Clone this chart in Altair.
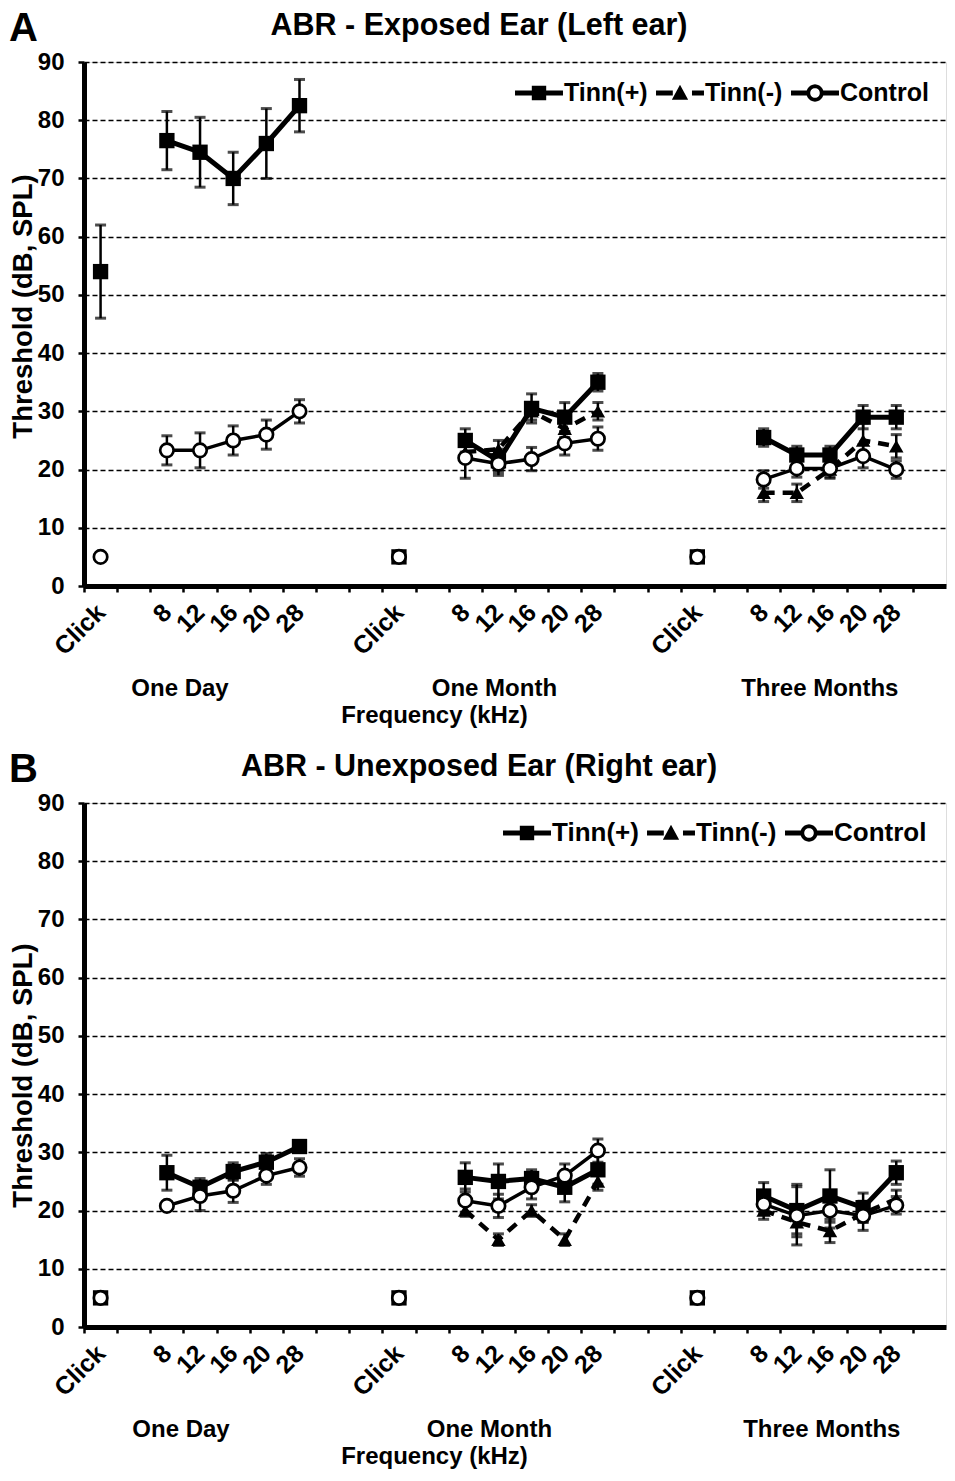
import math
import altair as alt
import pandas as pd

periods = ["One Day", "One Month", "Three Months"]
freqs = ["Click", "8", "12", "16", "20", "28"]
series_names = ["Tinn(+)", "Tinn(-)", "Control"]
panel_letters = ["A", "B"]
panel_titles = ["ABR - Exposed Ear (Left ear)", "ABR - Unexposed Ear (Right ear)"]
y_ticks = [0, 10, 20, 30, 40, 50, 60, 70, 80, 90]

# values per period block: Click, 8, 12, 16, 20, 28  (One Day | One Month | Three Months)
a_tinn_pos = [54, 76.5, 74.5, 70, 76, 82.5,
              5, 25, 21.5, 30.5, 29, 35,
              5, 25.5, 22.5, 22.5, 29, 29]
a_tinn_pos_err = [8, 5, 6, 4.5, 6, 4.5,
                  0, 2, 2, 2.5, 2.5, 1.5,
                  0, 1.5, 1.5, 1.5, 2, 2]
a_tinn_neg = [None, None, None, None, None, None,
              5, 23, 23.5, 30, 27, 30,
              5, 16, 16, 20, 25, 24]
a_tinn_neg_err = [None, None, None, None, None, None,
                  0, 1.5, 1.5, 1.5, 1.5, 1.5,
                  0, 1.5, 1.5, 1.5, 3, 2]
a_control = [5, 23.3, 23.3, 25, 26, 30,
             5, 22, 21, 21.8, 24.5, 25.3,
             5, 18.3, 20.2, 20.2, 22.3, 20]
a_control_err = [0, 2.5, 3, 2.5, 2.5, 2,
                 0, 3.5, 2, 2, 2, 2,
                 0, 1.5, 1.5, 1.5, 2, 1.5]

b_tinn_pos = [5, 26.5, 24, 26.7, 28.3, 31,
              5, 25.7, 25, 25.5, 24, 27,
              5, 22.5, 20, 22.5, 20.5, 26.5]
b_tinn_pos_err = [0, 3, 1.5, 1.5, 1.5, 1,
                  0, 2.5, 3, 1.5, 2.5, 2.5,
                  0, 2.3, 4.5, 4.5, 2.5, 2]
b_tinn_neg = [None, None, None, None, None, None,
              5, 20, 15, 20, 15, 25,
              5, 20, 18, 16.5, 19.5, 22]
b_tinn_neg_err = [None, None, None, None, None, None,
                  0, 1, 1, 1, 1, 1.5,
                  0, 1.5, 2, 2, 1.5, 1.5]
b_control = [5, 20.8, 22.5, 23.4, 26, 27.4,
             5, 21.7, 20.8, 24, 26, 30.3,
             5, 21.1, 19.1, 20, 19.1, 20.9]
b_control_err = [0, 0.5, 2.5, 2, 1.5, 1.5,
                 0, 2, 2, 2, 2, 2,
                 0, 1.5, 5, 3, 2.5, 1.5]

# ---- category slots (Excel-like category axis with blank slots) ----
slot_labels = []   # label of every slot ('' for blank slots)
slot_index = {}    # (period, freq) -> slot number
for i, p in enumerate(periods):
    if i > 0:
        slot_labels += ["", ""]
    slot_index[(p, "Click")] = len(slot_labels)
    slot_labels += ["Click", ""]
    for f in freqs[1:]:
        slot_index[(p, f)] = len(slot_labels)
        slot_labels.append(f)
slot_labels.append("")
N_SLOTS = len(slot_labels)  # 26


def build(series_data):
    rows = []
    for s, vals, errs in series_data:
        for k, (v, e) in enumerate(zip(vals, errs)):
            if v is None:
                continue
            p = periods[k // 6]
            f = freqs[k % 6]
            rows.append(dict(series=s, period=p, freq=f, pos=slot_index[(p, f)] + 0.5,
                             value=v, err=e, lo=v - e, hi=v + e, grp=f"{s}|{p}"))
    return pd.DataFrame(rows)


df_a = build([("Tinn(+)", a_tinn_pos, a_tinn_pos_err),
              ("Tinn(-)", a_tinn_neg, a_tinn_neg_err),
              ("Control", a_control, a_control_err)])
df_b = build([("Tinn(+)", b_tinn_pos, b_tinn_pos_err),
              ("Tinn(-)", b_tinn_neg, b_tinn_neg_err),
              ("Control", b_control, b_control_err)])

W, H = 862, 524
SLOT_W = W / N_SLOTS
FONT = "Liberation Sans"


def ring(r, reverse=False, n=24):
    angs = [2 * math.pi * k / n for k in range(n)]
    if reverse:
        angs = angs[::-1]
    pts = [f"{r * math.cos(a):.3f},{r * math.sin(a):.3f}" for a in angs]
    return "M" + " L".join(pts) + " Z"


legend_paths = [
    "M-1,-0.1 L1,-0.1 L1,0.1 L-1,0.1 Z M-0.3,-0.3 L0.3,-0.3 L0.3,0.3 L-0.3,0.3 Z",
    "M-1,-0.1 L-0.3,-0.1 L-0.3,0.1 L-1,0.1 Z M-0.34,0.28 L0,-0.34 L0.34,0.28 Z "
    "M0.5,-0.1 L1,-0.1 L1,0.1 L0.5,0.1 Z",
    "M-1,-0.1 L-0.33,-0.1 L-0.33,0.1 L-1,0.1 Z M0.33,-0.1 L1,-0.1 L1,0.1 L0.33,0.1 Z "
    + ring(0.36) + " " + ring(0.2, reverse=True),
]

label_array = "[" + ",".join(f"'{s}'" for s in slot_labels) + "]"
x_axis = alt.Axis(
    title="Frequency (kHz)", titleFontSize=24, titleFontWeight="bold", titleColor="black",
    titleX=350, titleY=129, titleBaseline="middle", titleAlign="center",
    values=list(range(N_SLOTS)),
    labelExpr=f"{label_array}[round(datum.value)]",
    labelOffset=SLOT_W / 2,
    labelAngle=-45, labelAlign="right", labelBaseline="middle", labelPadding=16,
    labelFontSize=25, labelFontWeight="bold", labelColor="black", labelOverlap=False,
    labelFlush=False, labelBound=False,
    tickSize=6, tickWidth=2.5, tickColor="black",
    domainColor="black", domainWidth=5, grid=False,
)


def make_y_axis(title_y):
    return alt.Axis(
        title="Threshold (dB, SPL)", titleFontSize=27.5, titleFontWeight="bold",
        titleColor="black", titlePadding=0, titleY=title_y, titleAlign="center",
        values=y_ticks, labelFontSize=24, labelFontWeight="bold",
        labelColor="black", labelPadding=14, tickSize=6, tickWidth=2.5, tickColor="black",
        domainColor="black", domainWidth=5, grid=True, gridColor="black", gridDash=[5, 3],
        gridWidth=1.5, gridOpacity=1,
    )


x_scale = alt.Scale(domain=[0, N_SLOTS], nice=False, zero=False)
y_scale = alt.Scale(domain=[0, 90], nice=False, zero=True)


def panel(df, idx, legend_x, legend_y, legend_font, title_y, group_dx):
    y_axis = make_y_axis(title_y)
    X = alt.X("pos:Q", scale=x_scale, axis=x_axis)
    Y = alt.Y("value:Q", scale=y_scale, axis=y_axis)
    base = alt.Chart(df)
    errd = base.transform_filter("datum.err > 0")
    rules = errd.mark_rule(color="black", strokeWidth=2.5).encode(
        x=X, y=alt.Y("lo:Q", scale=y_scale, axis=y_axis), y2="hi:Q")
    cap_lo = errd.mark_tick(color="black", thickness=3, size=11, orient="horizontal").encode(
        x=X, y=alt.Y("lo:Q", scale=y_scale, axis=y_axis))
    cap_hi = errd.mark_tick(color="black", thickness=3, size=11, orient="horizontal").encode(
        x=X, y=alt.Y("hi:Q", scale=y_scale, axis=y_axis))

    lined = base.transform_filter("datum.freq != 'Click'")
    line_neg = lined.transform_filter("datum.series == 'Tinn(-)'").mark_line(
        color="black", strokeWidth=4.5, strokeDash=[11, 8]).encode(x=X, y=Y, detail="grp:N")
    line_pos = lined.transform_filter("datum.series == 'Tinn(+)'").mark_line(
        color="black", strokeWidth=5).encode(x=X, y=Y, detail="grp:N")
    line_ctl = lined.transform_filter("datum.series == 'Control'").mark_line(
        color="black", strokeWidth=3.5).encode(x=X, y=Y, detail="grp:N")

    pt_neg = base.transform_filter("datum.series == 'Tinn(-)'").mark_point(
        shape="triangle-up", filled=True, color="black", size=210, opacity=1).encode(x=X, y=Y)
    pt_pos = base.transform_filter("datum.series == 'Tinn(+)'").mark_point(
        shape="square", filled=True, color="black", size=235, opacity=1).encode(x=X, y=Y)
    pt_ctl = base.transform_filter("datum.series == 'Control'").mark_point(
        shape="circle", filled=True, fill="white", stroke="black", strokeWidth=2.7,
        size=180, opacity=1).encode(x=X, y=Y)

    leg = base.mark_point(filled=True, color="black", opacity=0).encode(
        x=X, y=Y,
        shape=alt.Shape("series:N", scale=alt.Scale(domain=series_names, range=legend_paths),
                        legend=alt.Legend(title=None, orient="none", legendX=legend_x,
                                          legendY=legend_y, direction="horizontal",
                                          symbolSize=2300, symbolStrokeWidth=0,
                                          symbolOpacity=1, symbolFillColor="black",
                                          labelFontSize=legend_font, labelFont=FONT,
                                          labelFontWeight="bold", labelColor="black",
                                          labelOffset=1, columnPadding=8)))

    letter = alt.Chart(pd.DataFrame({"t": [panel_letters[idx]]})).mark_text(
        fontSize=40, fontWeight="bold", font=FONT, align="left", baseline="top",
        color="black").encode(x=alt.value(-75), y=alt.value(-53), text="t:N")
    title = alt.Chart(pd.DataFrame({"t": [panel_titles[idx]]})).mark_text(
        fontSize=30.5, fontWeight="bold", font=FONT, align="center", baseline="top",
        color="black").encode(x=alt.value(395), y=alt.value(-51), text="t:N")

    gdf = pd.DataFrame({"label": periods,
                        "pos": [slot_index[(p, "12")] + 0.5 for p in periods]})
    groups = []
    for k, dx in enumerate(group_dx):
        groups.append(alt.Chart(gdf.iloc[[k]]).mark_text(
            fontSize=24, fontWeight="bold", font=FONT, align="center", baseline="middle",
            color="black", dx=dx).encode(x=X, y=alt.value(H + 103), text="label:N"))

    return alt.layer(rules, cap_lo, cap_hi, line_neg, line_pos, line_ctl,
                     pt_neg, pt_pos, pt_ctl, leg, letter, title, *groups).properties(
        width=W, height=H)


pa = panel(df_a, 0, 431, 7, 25, 244, [-20, -4, 23])
pb = panel(df_b, 1, 419, 6, 26, 272, [-19, -9, 25])

chart = alt.vconcat(pa, pb, spacing=21).resolve_scale(
    shape="independent").resolve_legend(shape="independent").properties(
    padding={"left": 0, "top": 0, "right": 0, "bottom": 0}
).configure_view(strokeWidth=0).configure(font=FONT)

chart.save("out.html", embed_options={"renderer": "svg", "actions": False})
